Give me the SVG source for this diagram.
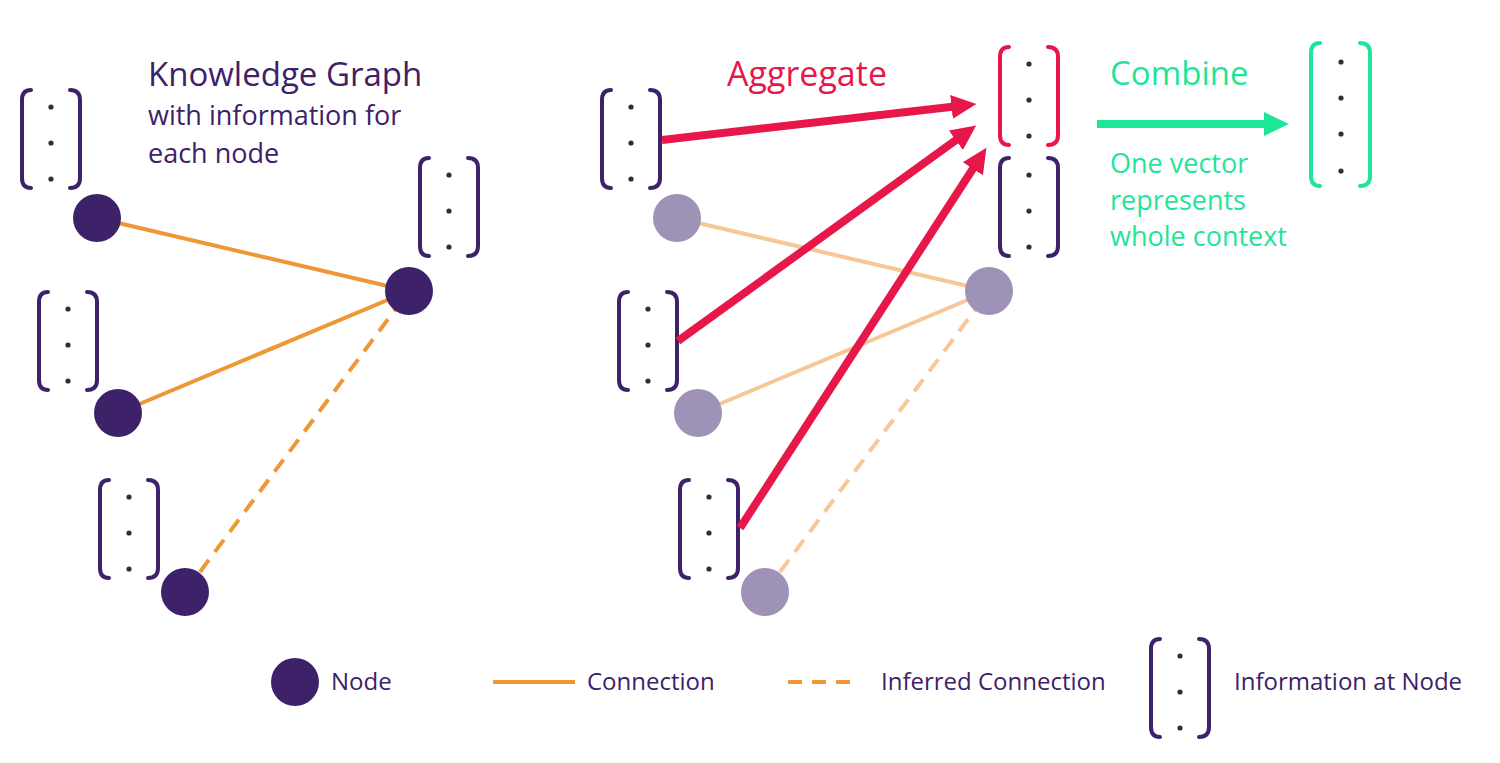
<svg xmlns="http://www.w3.org/2000/svg" xmlns:xlink="http://www.w3.org/1999/xlink" width="1500" height="763" viewBox="0 0 1500 763">
<style>
text{font-family:"Open Sans","Liberation Sans",sans-serif}
.pur{fill:#3d2169}
.red{fill:#e8174a}
.grn{fill:#1fe597}
.br{fill:none;stroke-width:4;stroke-linecap:round}
.dot{fill:#2b2d42;stroke:none}
.node{fill:#3d2169}
.fnode{fill:#9e92b7}
.conn{stroke:#ef9635;stroke-width:4;fill:none}
.fconn{stroke:#f7c896;stroke-width:4;fill:none}
.dash{stroke-dasharray:15 10}
.arr{stroke:#e8174a;stroke-width:8;fill:none}
</style>
<defs>
<g id="br3">
<path class="br" d="M11,2 Q2,2 2,12 V90 Q2,100 11,100 M50,2 Q60,2 60,12 V90 Q60,100 50,100"/>
<circle class="dot" cx="31" cy="19" r="2.6"/>
<circle class="dot" cx="31" cy="55" r="2.6"/>
<circle class="dot" cx="31" cy="91" r="2.6"/>
</g>
<marker id="ah" markerUnits="userSpaceOnUse" markerWidth="26" markerHeight="26" refX="1" refY="12" orient="auto" viewBox="0 0 26 24">
<path d="M0,0 L25,12 L0,24 z" fill="#e8174a"/>
</marker>
</defs>

<g id="connectors">
<line class="conn" x1="97" y1="218" x2="409" y2="291"/>
<line class="conn" x1="118" y1="413" x2="409" y2="291"/>
<line class="conn dash" x1="185" y1="592" x2="409" y2="291"/>
<line class="fconn" x1="677" y1="218" x2="989" y2="291"/>
<line class="fconn" x1="698" y1="413" x2="989" y2="291"/>
<line class="fconn dash" x1="765" y1="592" x2="989" y2="291"/>
</g>

<g id="left-graph">
<use xlink:href="#br3" x="20" y="88" stroke="#3d2169"/>
<use xlink:href="#br3" x="418" y="156" stroke="#3d2169"/>
<use xlink:href="#br3" x="37" y="290" stroke="#3d2169"/>
<use xlink:href="#br3" x="98" y="478" stroke="#3d2169"/>
<circle id="n1" class="node" cx="97" cy="218" r="24"/>
<circle id="n2" class="node" cx="409" cy="291" r="24"/>
<circle id="n3" class="node" cx="118" cy="413" r="24"/>
<circle id="n4" class="node" cx="185" cy="592" r="24"/>
<text class="pur" x="148" y="86" font-size="33">Knowledge Graph</text>
<text class="pur" x="148" y="125" font-size="27">with information for</text>
<text class="pur" x="148" y="163" font-size="27">each node</text>
</g>

<g id="middle-graph">
<use xlink:href="#br3" x="600" y="88" stroke="#3d2169"/>
<use xlink:href="#br3" x="998" y="156" stroke="#3d2169"/>
<use xlink:href="#br3" x="998" y="45" stroke="#e8174a"/>
<use xlink:href="#br3" x="617" y="290" stroke="#3d2169"/>
<use xlink:href="#br3" x="678" y="478" stroke="#3d2169"/>
<circle id="m1" class="fnode" cx="677" cy="218" r="24"/>
<circle id="m2" class="fnode" cx="989" cy="291" r="24"/>
<circle id="m3" class="fnode" cx="698" cy="413" r="24"/>
<circle id="m4" class="fnode" cx="765" cy="592" r="24"/>
<text class="red" x="727" y="86" font-size="34">Aggregate</text>
</g>

<g id="aggregate-arrows">
<line class="arr" x1="662" y1="140" x2="952.5" y2="106.8" marker-end="url(#ah)"/>
<line class="arr" x1="678" y1="341" x2="956.7" y2="139.6" marker-end="url(#ah)"/>
<line class="arr" x1="740" y1="528" x2="973.4" y2="168" marker-end="url(#ah)"/>
</g>

<g id="combine">
<line x1="1097" y1="124" x2="1266" y2="124" stroke="#1fe597" stroke-width="8"/>
<polygon points="1264,112 1289,124 1264,136" fill="#1fe597"/>
<text class="grn" x="1110" y="85" font-size="33">Combine</text>
<text class="grn" x="1110" y="173" font-size="27">One vector</text>
<text class="grn" x="1110" y="210" font-size="27">represents</text>
<text class="grn" x="1110" y="246" font-size="27">whole context</text>
</g>

<g id="result-vector">
<path class="br" stroke="#1fe597" d="M1320,43 Q1311,43 1311,53 V176 Q1311,186 1320,186 M1360,43 Q1370,43 1370,53 V176 Q1370,186 1360,186"/>
<circle class="dot" cx="1341" cy="62" r="2.6"/>
<circle class="dot" cx="1341" cy="98" r="2.6"/>
<circle class="dot" cx="1341" cy="134" r="2.6"/>
<circle class="dot" cx="1341" cy="171" r="2.6"/>
</g>

<g id="legend">
<circle class="node" cx="295" cy="682" r="24"/>
<text class="pur" x="331" y="690" font-size="24">Node</text>
<line class="conn" x1="493" y1="682" x2="575" y2="682"/>
<text class="pur" x="587" y="690" font-size="24">Connection</text>
<line class="conn" x1="788" y1="682" x2="860" y2="682" stroke-dasharray="14 10"/>
<text class="pur" x="881" y="690" font-size="24">Inferred Connection</text>
<use xlink:href="#br3" x="1149" y="637" stroke="#3d2169"/>
<text class="pur" x="1234" y="690" font-size="24">Information at Node</text>
</g>
</svg>
